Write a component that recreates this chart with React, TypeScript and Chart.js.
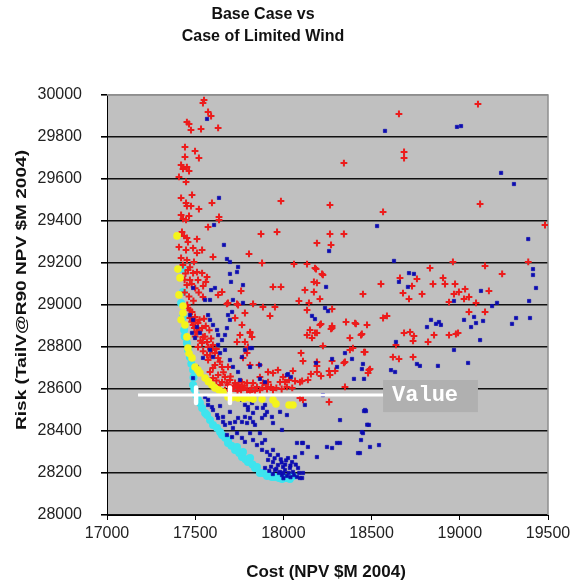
import React, { useEffect, useRef } from 'react';
import { Chart, registerables } from 'chart.js';

Chart.register(...registerables);

// ---- axis ticks ----
const xTickValues = [17000, 17500, 18000, 18500, 19000, 19500];
const yTickValues = [28000, 28200, 28400, 28600, 28800, 29000, 29200, 29400, 29600, 29800, 30000];

// ---- text ----
const titleLines = ['Base Case vs', 'Case of Limited Wind'];
const xAxisTitle = 'Cost (NPV $M 2004)';
const yAxisTitle = 'Risk (TailV@R90 NPV $M 2004)';
const valueLabel = 'Value';

// ---- Base case (red crosses): [cost, risk] ----
const baseCasePoints: number[][] = [
  [17550, 29976], [17544, 29962], [17573, 29919], [17590, 29900], [17453, 29871], [17465, 29862],
  [17476, 29833], [17533, 29838], [17630, 29843], [17442, 29752], [17499, 29733], [17442, 29705],
  [17521, 29700], [17420, 29667], [17453, 29657], [17431, 29648], [17465, 29638], [17408, 29610],
  [17448, 29586], [18343, 29676], [17420, 29510], [17482, 29524], [17448, 29486], [17453, 29471],
  [17476, 29471], [17521, 29457], [17595, 29486], [17986, 29495], [18264, 29476], [17420, 29429],
  [17431, 29410], [17448, 29405], [17465, 29424], [17635, 29419], [17635, 29405], [17573, 29371],
  [17425, 29348], [17437, 29329], [17459, 29300], [17453, 29319], [17510, 29314], [17873, 29338],
  [17964, 29348], [18264, 29338], [18343, 29338], [18190, 29295], [18270, 29286], [17805, 29243],
  [17408, 29276], [17448, 29262], [17488, 29271], [17539, 29262], [17510, 29248], [17420, 29224],
  [17453, 29214], [17493, 29205], [17601, 29229], [17879, 29200], [18060, 29195], [18134, 29195],
  [17459, 29167], [17488, 29152], [17516, 29119], [17470, 29119], [17510, 29157], [17453, 29095],
  [17539, 29152], [17567, 29133], [17941, 29086], [17986, 29086], [18179, 29176], [18219, 29148],
  [18173, 29110], [18190, 29105], [18122, 29071], [18173, 29062], [18451, 29052], [18088, 29019],
  [18145, 29010], [18207, 29029], [17760, 29067], [17652, 29062], [17630, 29048], [17544, 29038],
  [17680, 29005], [17737, 29005], [17884, 28990], [17952, 28990], [18185, 29171], [18224, 29143],
  [19103, 29957], [18655, 29910], [18684, 29729], [18684, 29700], [18565, 29443], [19115, 29481],
  [19483, 29381], [18961, 29205], [19388, 29205], [19143, 29186], [19240, 29148], [18831, 29176],
  [18661, 29129], [18757, 29124], [18553, 29100], [18729, 29090], [18905, 29129], [18848, 29100],
  [18916, 29100], [18973, 29100], [18678, 29057], [18786, 29052], [18712, 29029], [18967, 29052],
  [18995, 29062], [19030, 29076], [19024, 29029], [19052, 29038], [19165, 29067], [18939, 29014],
  [19092, 29010], [19052, 28967], [19143, 28967], [18474, 28905], [18445, 28862], [18565, 28938],
  [18587, 28948], [18684, 28867], [18718, 28871], [18740, 28852], [18735, 28829], [18820, 28824],
  [18854, 28857], [18939, 28857], [18978, 28862], [18990, 28867], [18638, 28810], [18457, 28776],
  [18621, 28752], [18655, 28743], [18735, 28752], [18491, 28695], [18480, 28676],
  [17828, 29005], [17924, 28948], [18134, 28976], [18276, 28981], [18213, 28910], [18276, 28900],
  [18270, 28886], [18151, 28881], [18190, 28867], [18162, 28843], [18355, 28919], [18411, 28910],
  [18440, 28857], [18377, 28843], [18224, 28805], [18394, 28795], [17811, 28867], [17822, 28848],
  [18100, 28771], [18111, 28733], [18190, 28710], [18276, 28733], [18377, 28786], [18463, 28776],
  [18343, 28724], [18293, 28686], [18259, 28686], [18485, 28690], [17811, 28714], [17862, 28714],
  [17941, 28676], [17998, 28657], [18054, 28686], [18032, 28643], [18066, 28638], [18106, 28638],
  [18156, 28671], [18213, 28662], [17981, 28633], [17913, 28633], [17884, 28629], [17828, 28629],
  [18349, 28610], [18094, 28557], [18111, 28548], [18259, 28538],
  [17459, 28986], [17482, 28967], [17470, 28938], [17499, 28943], [17488, 28905], [17516, 28914],
  [17539, 28890], [17510, 28871], [17544, 28848], [17567, 28824], [17539, 28819], [17516, 28800],
  [17573, 28800], [17595, 28786], [17612, 28771], [17567, 28762], [17630, 28748], [17573, 28738],
  [17612, 28714], [17652, 28705], [17584, 28681], [17630, 28667], [17669, 28657], [17697, 28643],
  [17601, 28652], [17652, 28633], [17686, 28619], [17726, 28629], [17754, 28610], [17771, 28605],
  [17737, 28605], [17709, 28605], [17794, 28595], [17811, 28586], [17839, 28590], [17867, 28595],
  [17907, 28600], [17941, 28595], [17765, 28633], [17794, 28629], [17669, 28595], [17641, 28619],
  [17686, 29010], [17743, 29000], [17782, 28962], [17726, 28938], [17765, 28905], [17811, 28871],
  [17754, 28857], [17782, 28824], [17799, 28800], [17737, 28824], [17794, 28771], [17771, 28748],
  [17686, 28705], [17867, 28657], [17913, 28681], [17969, 28690], [18009, 28633], [18094, 28633],
  [18139, 28643], [18190, 28681], [18264, 28667], [18349, 28729], [18406, 28914], [18276, 28890],
  [18207, 28905], [18179, 28867], [18134, 28857], [18190, 28729],
  [17480, 28920], [17500, 28925], [17525, 28930], [17550, 28935], [17495, 28890], [17520, 28880],
  [17560, 28900], [17580, 28880], [17500, 28850], [17530, 28830], [17555, 28850], [17590, 28840],
  [17600, 28810], [17545, 28780], [17585, 28760], [17620, 28790], [17640, 28730], [17600, 28700],
  [17660, 28680], [17620, 28640], [17700, 28660], [17680, 28630], [17720, 28610], [17745, 28620],
  [17760, 28595], [17780, 28615], [17820, 28605], [17850, 28610], [17880, 28605], [17900, 28620],
  [17930, 28610], [17960, 28605], [17990, 28600], [18020, 28610], [18050, 28605], [17700, 28590],
  [17740, 28590], [17430, 29190], [17445, 29150], [17470, 29180], [17480, 29100], [17500, 29080],
  [17440, 29060], [17465, 29040], [17490, 29020], [17520, 29060], [17545, 29090], [17560, 29110],
  [17440, 29120], [17455, 29000], [17470, 28975],
];

// ---- Limited wind case (blue squares): [cost, risk] ----
const limitedWindPoints: number[][] = [
  [17567, 29886], [17635, 29510], [17607, 29381], [18531, 29376], [18259, 29257], [17663, 29286],
  [17680, 29219], [17697, 29205], [17743, 29181], [17737, 29157], [17697, 29148], [17703, 29110],
  [17771, 29095], [17488, 29081], [17590, 29071], [17612, 29081], [17584, 29024], [17556, 29024],
  [17714, 29024], [17771, 29010], [18242, 29086], [18576, 29829], [18984, 29848], [19007, 29852],
  [19234, 29629], [19307, 29576], [19388, 29314], [18627, 29210], [19415, 29171], [19415, 29143],
  [18712, 29152], [18740, 29148], [18655, 29110], [18706, 29086], [19120, 29067], [18967, 29019],
  [19211, 29010], [19183, 28995], [19393, 29019], [19432, 29081], [19081, 28943], [19092, 28914],
  [19132, 28924], [19064, 28895], [19024, 28929], [19319, 28938], [19296, 28910], [19398, 28938],
  [18837, 28929], [18865, 28910], [18893, 28905], [18882, 28919], [18814, 28895], [18638, 28824],
  [19115, 28833], [18967, 28786], [18757, 28719], [18774, 28710], [18876, 28710], [19047, 28724],
  [18451, 28719], [18445, 28695], [18610, 28690], [18633, 28681], [18457, 28648], [18457, 28495],
  [18468, 28495], [18485, 28429], [18451, 28390], [18440, 28357], [18542, 28333], [18434, 28295],
  [18236, 28986], [18253, 28971], [18162, 28948], [18179, 28933], [17822, 28795], [18185, 28724],
  [18276, 28743], [18349, 28771], [18389, 28743], [18304, 28705], [18400, 28648], [17811, 28705],
  [18026, 28671], [18043, 28657], [17867, 28648], [17896, 28633], [18122, 28524], [17884, 28510],
  [17556, 28562], [17573, 28548], [17573, 28524], [17595, 28514], [17601, 28500], [17641, 28519],
  [17624, 28476], [17630, 28462], [17658, 28467], [17658, 28443], [17669, 28429], [17697, 28438],
  [17714, 28414], [17726, 28443], [17743, 28462], [17765, 28443], [17782, 28467], [17794, 28438],
  [17811, 28462], [17828, 28443], [17839, 28429], [17799, 28500], [17782, 28524], [17765, 28548],
  [17822, 28533], [17850, 28510], [17896, 28476], [17935, 28467], [17896, 28524], [17981, 28491],
  [18020, 28476], [17737, 28390], [17765, 28367], [17782, 28348], [17811, 28390], [17828, 28357],
  [17867, 28390], [17850, 28333], [17879, 28343], [17896, 28357], [17879, 28310], [17907, 28300],
  [17924, 28286], [17941, 28310], [17969, 28286], [17913, 28262], [17941, 28252], [17969, 28238],
  [17998, 28229], [18009, 28214], [17981, 28205], [18037, 28224], [18049, 28252], [18066, 28276],
  [18054, 28205], [18077, 28181], [18106, 28176], [18083, 28224], [18106, 28295], [18106, 28343],
  [18026, 28271], [17952, 28214], [17992, 28190], [18020, 28186], [17896, 28224], [17697, 28491],
  [17680, 28381], [17709, 28371],
  [17470, 28952], [17488, 28929], [17510, 28895], [17482, 28867], [17499, 28843], [17527, 28867],
  [17573, 28952], [17584, 28929], [17601, 28905], [17624, 28881], [17630, 28857], [17652, 28833],
  [17669, 28857], [17680, 28890], [17697, 28929], [17686, 28952], [17709, 28967], [17630, 28810],
  [17584, 28786], [17601, 28752], [17641, 28771], [17669, 28786], [17697, 28738], [17714, 28705],
  [17743, 28681], [17754, 28643], [17765, 28752], [17782, 28786], [17811, 28795], [17544, 28748],
  [17510, 28705], [17488, 28652], [17867, 28714], [18020, 28667], [17799, 28514], [17828, 28486],
  [17907, 28491], [17879, 28462], [17941, 28438], [17992, 28405], [18077, 28343], [18111, 28343],
  [18139, 28324], [18190, 28276], [18247, 28324], [18276, 28319], [18304, 28343], [18321, 28343],
  [18423, 28295], [18445, 28395], [18491, 28324], [18463, 28500], [18475, 28430], [18321, 28452],
  [18224, 28571], [18111, 28200], [18094, 28176],
  [17930, 28230], [17960, 28220], [17990, 28250], [18010, 28240], [17950, 28270], [17975, 28200],
  [18000, 28200], [18030, 28200], [18060, 28190], [17920, 28210], [17940, 28195], [18015, 28260],
  [18040, 28235], [17985, 28265], [18070, 28240], [18090, 28200], [18000, 28175], [18040, 28180],
];

// ---- Base case efficient frontier (yellow): [cost, risk] ----
const baseFrontierPoints: number[][] = [
  [17397, 29329], [17402, 29171], [17414, 29129], [17408, 29048], [17431, 28995], [17431, 28962],
  [17420, 28930], [17442, 28905], [17453, 28848], [17459, 28795], [17465, 28770], [17482, 28748],
  [17499, 28705], [17515, 28690], [17527, 28676], [17556, 28652], [17575, 28635], [17595, 28619],
  [17612, 28605], [17635, 28595], [17658, 28586], [17686, 28562], [17710, 28560], [17743, 28557],
  [17775, 28555], [17811, 28557], [17828, 28552], [17879, 28552], [17941, 28548], [17958, 28529],
  [18032, 28524], [18054, 28524],
];

// ---- Limited wind efficient frontier (cyan): [cost, risk] ----
const limitedFrontierPoints: number[][] = [
  [17425, 29171], [17431, 29062], [17420, 29010], [17431, 28943], [17437, 28881], [17440, 28850],
  [17453, 28819], [17460, 28785], [17470, 28752], [17478, 28720], [17488, 28690], [17490, 28655],
  [17488, 28619], [17495, 28600], [17505, 28571], [17515, 28550], [17527, 28533], [17539, 28510],
  [17556, 28486], [17567, 28476], [17584, 28452], [17601, 28429], [17624, 28414], [17641, 28395],
  [17652, 28381], [17670, 28368], [17686, 28357], [17686, 28343], [17705, 28330], [17726, 28310],
  [17737, 28324], [17750, 28295], [17765, 28276], [17771, 28300], [17785, 28265], [17799, 28252],
  [17811, 28271], [17825, 28240], [17839, 28224], [17850, 28229], [17867, 28200], [17884, 28200],
  [17907, 28186], [17920, 28190], [17935, 28181], [17952, 28181], [17975, 28176], [17992, 28171],
  [17998, 28181], [18015, 28176], [18037, 28171], [18054, 28186],
];

// ---- "Value" annotation (data coordinates) ----
const valueLevel = 28571;
const valueLineFrom = 17176;
const valueLineTo = 18565;
const valueMarkers = [17505, 17697];
const valueMarkerSpan = [28533, 28607];
const valueBoxX = [18565, 19103];
const valueBoxY = [28643, 28490];
const valueLabelAt = [18803, 28567];

const toXY = (pts: number[][]) => pts.map(([x, y]) => ({ x, y }));

const FONT = '"Liberation Sans", Arial, Helvetica, sans-serif';

const decorPlugin = {
  id: 'decor',
  beforeDraw(chart: any) {
    const { ctx, chartArea: a } = chart;
    ctx.save();
    ctx.fillStyle = '#ffffff';
    ctx.fillRect(0, 0, chart.width, chart.height);
    ctx.fillStyle = '#c0c0c0';
    ctx.fillRect(a.left, a.top, a.right - a.left, a.bottom - a.top);
    ctx.restore();
  },
  beforeDatasetsDraw(chart: any) {
    const { ctx, chartArea: a } = chart;
    ctx.save();
    ctx.strokeStyle = '#8e8e8e';
    ctx.lineWidth = 1.5;
    ctx.beginPath();
    ctx.moveTo(a.left, a.top);
    ctx.lineTo(a.right, a.top);
    ctx.lineTo(a.right, a.bottom);
    ctx.stroke();
    ctx.restore();
  },
  afterDatasetsDraw(chart: any) {
    const { ctx } = chart;
    const xs = chart.scales.x;
    const ys = chart.scales.y;
    ctx.save();
    ctx.strokeStyle = '#ffffff';
    ctx.lineWidth = 3;
    const ly = ys.getPixelForValue(valueLevel);
    ctx.beginPath();
    ctx.moveTo(xs.getPixelForValue(valueLineFrom), ly);
    ctx.lineTo(xs.getPixelForValue(valueLineTo), ly);
    ctx.stroke();
    ctx.lineWidth = 4.5;
    ctx.lineCap = 'round';
    valueMarkers.forEach((v) => {
      const px = xs.getPixelForValue(v);
      ctx.beginPath();
      ctx.moveTo(px, ys.getPixelForValue(valueMarkerSpan[1]));
      ctx.lineTo(px, ys.getPixelForValue(valueMarkerSpan[0]));
      ctx.stroke();
    });
    const bx0 = xs.getPixelForValue(valueBoxX[0]);
    const bx1 = xs.getPixelForValue(valueBoxX[1]);
    const by0 = ys.getPixelForValue(valueBoxY[0]);
    const by1 = ys.getPixelForValue(valueBoxY[1]);
    ctx.fillStyle = '#b0b0b0';
    ctx.fillRect(bx0, by0, bx1 - bx0, by1 - by0);
    ctx.fillStyle = '#ffffff';
    ctx.font = 'bold 22px "Liberation Mono", "Courier New", monospace';
    ctx.textAlign = 'center';
    ctx.textBaseline = 'middle';
    ctx.fillText(valueLabel, xs.getPixelForValue(valueLabelAt[0]), ys.getPixelForValue(valueLabelAt[1]));
    ctx.restore();
  },
  afterDraw(chart: any) {
    const { ctx } = chart;
    ctx.save();
    ctx.fillStyle = '#111111';
    ctx.textAlign = 'center';
    ctx.textBaseline = 'middle';
    ctx.font = `bold 16px ${FONT}`;
    ctx.fillText(titleLines[0], 263, 15);
    ctx.fillText(titleLines[1], 263, 37);
    ctx.font = `bold 17px ${FONT}`;
    ctx.fillText(xAxisTitle, 326, 572);
    ctx.font = `bold 15px ${FONT}`;
    const w = ctx.measureText(yAxisTitle).width;
    ctx.translate(22, 290);
    ctx.rotate(-Math.PI / 2);
    ctx.scale(280 / w, 1);
    ctx.fillText(yAxisTitle, 0, 0);
    ctx.restore();
  },
};

export default function App() {
  const canvasRef = useRef<HTMLCanvasElement | null>(null);

  useEffect(() => {
    const canvas = canvasRef.current;
    if (!canvas) return;
    const chart = new Chart(canvas, {
      type: 'scatter',
      data: {
        datasets: [
          {
            label: 'Base Case frontier',
            data: toXY(baseFrontierPoints),
            pointStyle: 'circle',
            pointRadius: 3.8,
            backgroundColor: '#f4f41c',
            borderColor: '#f4f41c',
            borderWidth: 0,
          },
          {
            label: 'Limited Wind',
            data: toXY(limitedWindPoints),
            pointStyle: 'rect',
            pointRadius: 2.3,
            backgroundColor: '#0c0cb0',
            borderColor: '#0c0cb0',
            borderWidth: 0.7,
          },
          {
            label: 'Base Case',
            data: toXY(baseCasePoints),
            pointStyle: 'cross',
            pointRadius: 3.4,
            backgroundColor: '#ec1c1c',
            borderColor: '#ec1c1c',
            borderWidth: 2,
          },
          {
            label: 'Limited Wind frontier',
            data: toXY(limitedFrontierPoints),
            pointStyle: 'circle',
            pointRadius: 4,
            backgroundColor: '#3ee4ee',
            borderColor: '#3ee4ee',
            borderWidth: 0,
          },
        ],
      },
      options: {
        animation: false,
        responsive: false,
        maintainAspectRatio: false,
        events: [],
        layout: { padding: { left: 0, top: 95, right: 28, bottom: 0 } },
        plugins: {
          legend: { display: false },
          tooltip: { enabled: false },
          title: { display: false },
        },
        scales: {
          x: {
            type: 'linear',
            min: 17000,
            max: 19500,
            afterBuildTicks: (axis: any) => {
              axis.ticks = xTickValues.map((v) => ({ value: v }));
            },
            afterFit: (scale: any) => {
              scale.height = 67;
            },
            ticks: {
              autoSkip: false,
              maxRotation: 0,
              padding: 4,
              color: '#222222',
              font: { family: FONT, size: 16 },
              callback: (v: any) => String(v),
            },
            grid: {
              drawOnChartArea: false,
              drawTicks: true,
              tickLength: 5,
              tickColor: '#000000',
            },
            border: { display: true, color: '#000000', width: 1 },
          },
          y: {
            type: 'linear',
            min: 28000,
            max: 30000,
            afterBuildTicks: (axis: any) => {
              axis.ticks = yTickValues.map((v) => ({ value: v }));
            },
            afterFit: (scale: any) => {
              scale.width = 107;
            },
            ticks: {
              autoSkip: false,
              padding: 19,
              color: '#222222',
              font: { family: FONT, size: 16 },
              callback: (v: any) => String(v),
            },
            grid: {
              color: (ctx: any) => (ctx.tick && ctx.tick.value === 30000 ? '#8e8e8e' : '#111111'),
              lineWidth: 1.6,
              drawTicks: true,
              tickLength: 6,
              tickColor: '#000000',
            },
            border: { display: true, color: '#000000', width: 1 },
          },
        },
      },
      plugins: [decorPlugin],
    } as any);
    return () => chart.destroy();
  }, []);

  return (
    <div style={{ position: 'fixed', left: 0, top: 0, width: 576, height: 582, background: '#ffffff' }}>
      <canvas ref={canvasRef} width={576} height={582} style={{ display: 'block', width: 576, height: 582 }} />
    </div>
  );
}
